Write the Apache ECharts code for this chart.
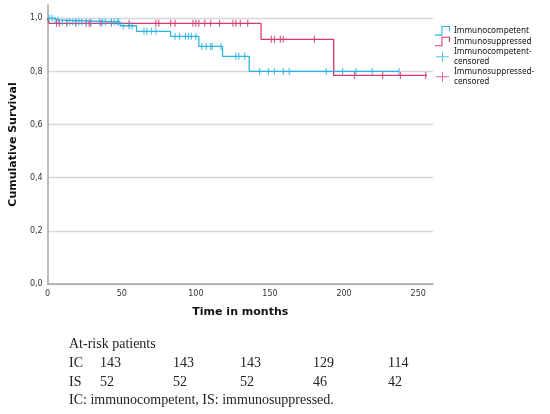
<!DOCTYPE html>
<html>
<head>
<meta charset="utf-8">
<script src="https://cdn.jsdelivr.net/npm/echarts@6/dist/echarts.min.js"></script>
<style>
    html, body { margin: 0; padding: 0; background: #fff; }
    #echarts { width: 550px; height: 414px; }
</style>
</head>
<body>
<div id="echarts"></div>
<script>
    // Kaplan-Meier steps: month of each drop and survival after it
    var icTimes = [0, 4, 8, 49, 60, 83, 102, 118, 136, 237]
    var icSurv = [1, 0.993, 0.986, 0.972, 0.951, 0.932, 0.894, 0.857, 0.800, 0.800]
    var isTimes = [0, 1, 144, 193, 256]
    var isSurv = [1, 0.981, 0.921, 0.785, 0.785]

    // censoring times (months)
    var icCensored = [1, 3, 5, 7, 10, 13, 15, 17, 19, 21, 23, 26, 29, 35, 37, 39, 43, 45, 47, 48,
        51, 55, 57, 65, 67, 70, 73, 86, 89, 93, 95, 97, 100, 104, 107, 110, 111, 117,
        127, 129, 133, 143, 149, 153, 159, 163, 188, 199, 208, 219, 237]
    var isCensored = [6, 8, 13, 19, 26, 28, 29, 36, 43, 55, 73, 75, 83, 86, 98, 100, 102, 106,
        110, 116, 125, 127, 130, 135, 151, 153, 157, 159, 180, 207, 226, 238, 255]

    // at-risk table
    var atRiskTitle = 'At-risk patients'
    var icAtRisk = [143, 143, 143, 129, 114]
    var isAtRisk = [52, 52, 52, 46, 42]
    var footnote = 'IC: immunocompetent, IS: immunosuppressed.'

    var yTicks = [0, 0.2, 0.4, 0.6, 0.8, 1.0]

    var icColor = '#2bb3e6',
        isColor = '#d9386f'

    var toPairs = function (xs, ys) {
        var res = []
        for (var i = 0; i < xs.length; i++) res.push([xs[i], ys[i]])
        return res
    }

    // survival value of a step curve at month t
    var survAt = function (xs, ys, t) {
        var s = ys[0]
        for (var i = 0; i < xs.length; i++) {
            if (xs[i] <= t) s = ys[i]
        }
        return s
    }

    var censorPoints = function (times, xs, ys) {
        var res = []
        for (var i = 0; i < times.length; i++) res.push([times[i], survAt(xs, ys, times[i])])
        return res
    }

    var chart = echarts.init(document.getElementById('echarts'))

    var stepIcon = 'path://M0,9H6V1H14V6H13V2H7V10H0Z'
    var crossIcon = 'path://M0,5H14V6H0Z M6.5,0H7.5V11H6.5Z'

    // table rows under the chart
    var colX = [100, 173, 240, 313, 388]
    var serif = '14px "Liberation Serif", "DejaVu Serif", serif'
    var tableText = [
        { type: 'text', left: 69, top: 337, style: { text: atRiskTitle, font: serif, fill: '#222' } },
        { type: 'text', left: 69, top: 356, style: { text: 'IC', font: serif, fill: '#222' } },
        { type: 'text', left: 69, top: 375, style: { text: 'IS', font: serif, fill: '#222' } },
        { type: 'text', left: 69, top: 393, style: { text: footnote, font: serif, fill: '#222' } }
    ]
    for (var i = 0; i < icAtRisk.length; i++) {
        tableText.push({ type: 'text', left: colX[i], top: 356, style: { text: String(icAtRisk[i]), font: serif, fill: '#222' } })
        tableText.push({ type: 'text', left: colX[i], top: 375, style: { text: String(isAtRisk[i]), font: serif, fill: '#222' } })
    }

    var option = {
        animation: false,
        grid: { left: 43, top: 5, right: 117, bottom: 130 },
        legend: {
            orient: 'vertical',
            left: 435,
            top: 26,
            padding: 0,
            itemGap: 1,
            itemWidth: 15,
            itemHeight: 10,
            selectedMode: false,
            formatter: function (name) {
                return name.replace('-censored', '-\ncensored')
            },
            textStyle: {
                fontFamily: 'Noto Sans',
                fontSize: 8.2,
                lineHeight: 9.5,
                color: '#111',
                padding: [0, 0, 0, -1]
            },
            itemStyle: { borderWidth: 0 },
            data: [
                { name: 'Immunocompetent', icon: stepIcon },
                { name: 'Immunosuppressed', icon: stepIcon },
                { name: 'Immunocompetent-censored', icon: crossIcon },
                { name: 'Immunosuppressed-censored', icon: crossIcon }
            ]
        },
        xAxis: {
            type: 'value',
            min: 0,
            max: 260,
            interval: 50,
            name: 'Time in months',
            nameLocation: 'middle',
            nameGap: 23,
            nameTextStyle: { fontFamily: 'DejaVu Sans', fontSize: 11, fontWeight: 'bold', color: '#111' },
            axisLine: { lineStyle: { color: '#a5a5a5', width: 1.5 } },
            axisTick: { show: false },
            splitLine: { show: false },
            axisLabel: {
                showMaxLabel: false,
                margin: 6,
                fontFamily: 'DejaVu Sans',
                fontSize: 8,
                color: '#333'
            }
        },
        yAxis: {
            type: 'value',
            min: 0,
            max: 1.05,
            interval: 0.2,
            name: 'Cumulative Survival',
            nameLocation: 'middle',
            nameGap: 25,
            nameTextStyle: { fontFamily: 'DejaVu Sans', fontSize: 11, fontWeight: 'bold', color: '#111' },
            axisLine: { show: true, lineStyle: { color: '#a5a5a5', width: 1.5 } },
            axisTick: { show: false },
            splitLine: { show: true, showMaxLine: false, lineStyle: { color: '#d8d8d8', width: 1.3 } },
            axisLabel: {
                showMaxLabel: false,
                margin: 5,
                fontFamily: 'DejaVu Sans',
                fontSize: 8,
                color: '#333',
                formatter: function (v) {
                    if (yTicks.indexOf(Math.round(v * 10) / 10) < 0 || Math.abs(v * 5 - Math.round(v * 5)) > 1e-6) return ''
                    return v.toFixed(1).replace('.', ',')
                }
            }
        },
        graphic: tableText,
        series: [
            {
                name: 'Immunocompetent',
                type: 'line',
                step: 'end',
                showSymbol: false,
                z: 3,
                itemStyle: { color: icColor },
                lineStyle: { color: icColor, width: 1.3 },
                emphasis: { disabled: true },
                data: toPairs(icTimes, icSurv)
            },
            {
                name: 'Immunosuppressed',
                type: 'line',
                step: 'end',
                showSymbol: false,
                z: 2,
                itemStyle: { color: isColor },
                lineStyle: { color: isColor, width: 1.3 },
                emphasis: { disabled: true },
                data: toPairs(isTimes, isSurv)
            },
            {
                name: 'Immunocompetent-censored',
                type: 'scatter',
                symbol: 'rect',
                symbolSize: [1.2, 7],
                z: 4,
                itemStyle: { color: icColor },
                emphasis: { disabled: true },
                data: censorPoints(icCensored, icTimes, icSurv)
            },
            {
                name: 'Immunosuppressed-censored',
                type: 'scatter',
                symbol: 'rect',
                symbolSize: [1.2, 7],
                z: 3,
                itemStyle: { color: isColor },
                emphasis: { disabled: true },
                data: censorPoints(isCensored, isTimes, isSurv)
            }
        ]
    }

    chart.setOption(option)
</script>
</body>
</html>
